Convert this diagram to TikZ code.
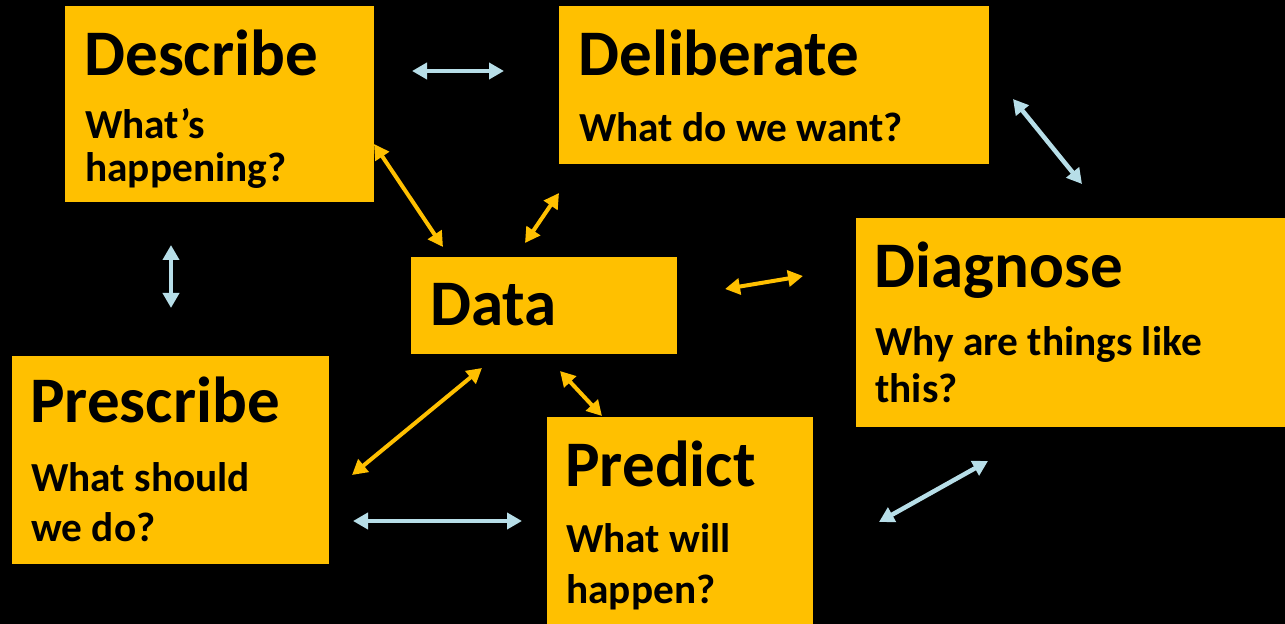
\documentclass[tikz,border=0pt]{standalone}
\usepackage{fontspec}
\setmainfont{Carlito}
\usetikzlibrary{arrows.meta}
\definecolor{boxorange}{HTML}{FFC000}
\definecolor{linkblue}{HTML}{B7DEE8}
\tikzset{
box/.style={ % orange panels
fill=boxorange,
inner sep=0pt},
title/.style={ % big word in each panel
anchor=base west,
inner sep=0pt,
font=\fontsize{37}{44}\bfseries\selectfont},
question/.style={ % question under the word, placed by its last line
anchor=base west,
inner sep=0pt,
align=left,
font=\fontsize{23.5}{28.5}\bfseries\selectfont},
blue link/.style={ % links between the panels
draw=linkblue,
line width=0.09cm,
{Triangle[length=0.3cm,width=0.32cm]}-{Triangle[length=0.3cm,width=0.32cm]}},
data link/.style={ % links to the data panel
draw=boxorange,
line width=0.08cm,
{Triangle[length=0.3cm,width=0.32cm]}-{Triangle[length=0.3cm,width=0.32cm]}}}

\begin{document}
\begin{tikzpicture}[x=0.02cm, y=-0.02cm]
\fill[black] (0,0) rectangle (1285,624);
% panels
\node[box, minimum width=6.18cm, minimum height=3.92cm] (describe) at (219.5,104) {};
\node[box, minimum width=8.6cm, minimum height=3.16cm] (deliberate) at (774,85) {};
\node[box, minimum width=8.58cm, minimum height=4.18cm] (diagnose) at (1070.5,322.5) {};
\node[box, minimum width=5.32cm, minimum height=1.94cm] (data) at (544,305.5) {};
\node[box, minimum width=6.34cm, minimum height=4.16cm] (prescribe) at (170.5,460) {};
\node[box, minimum width=5.32cm, minimum height=4.14cm] (predict) at (680,520.5) {};
% texts
\node[title] (describe title) at (84,76) {Describe};
\node[question, font=\fontsize{23.5}{25}\bfseries\selectfont] (describe q) at (85,182) {What’s\\happening?};
\node[title] (deliberate title) at (578,76) {Deliberate};
\node[question] (deliberate q) at (579,142) {What do we want?};
\node[title] (diagnose title) at (874,288) {Diagnose};
\node[question, font=\fontsize{23.5}{27.3}\bfseries\selectfont] (diagnose q) at (875,403) {Why are things like\\this?};
\node[title] (data title) at (430,326) {Data};
\node[title] (prescribe title) at (30,423) {Prescribe};
\node[question] (prescribe q) at (31,542) {What should\\we do?};
\node[title] (predict title) at (565,487) {Predict};
\node[question] (predict q) at (566,603) {What will\\happen?};
% arrow ends
\coordinate (describe east) at (412,71);
\coordinate (deliberate west) at (504,71);
\coordinate (deliberate south) at (1013,99);
\coordinate (diagnose north) at (1082,184);
\coordinate (describe south) at (171,245);
\coordinate (prescribe north) at (171,308);
\coordinate (diagnose south) at (988,461);
\coordinate (predict east) at (879,522);
\coordinate (prescribe east) at (353,521);
\coordinate (predict west) at (522,521);
\coordinate (describe corner) at (374,144);
\coordinate (data nw) at (443,247);
\coordinate (deliberate corner) at (559,193);
\coordinate (data n) at (525,243);
\coordinate (data e) at (725,289);
\coordinate (diagnose w) at (803,276);
\coordinate (data sw) at (482,368);
\coordinate (prescribe corner) at (352,475);
\coordinate (data s) at (560,371);
\coordinate (predict north) at (602,416);
% links
\draw[blue link] (describe east) -- (deliberate west);
\draw[blue link] (deliberate south) -- (diagnose north);
\draw[blue link] (describe south) -- (prescribe north);
\draw[blue link] (diagnose south) -- (predict east);
\draw[blue link] (prescribe east) -- (predict west);
\draw[data link] (describe corner) -- (data nw);
\draw[data link] (deliberate corner) -- (data n);
\draw[data link] (data e) -- (diagnose w);
\draw[data link] (data sw) -- (prescribe corner);
\draw[data link] (data s) -- (predict north);
\end{tikzpicture}
\end{document}
